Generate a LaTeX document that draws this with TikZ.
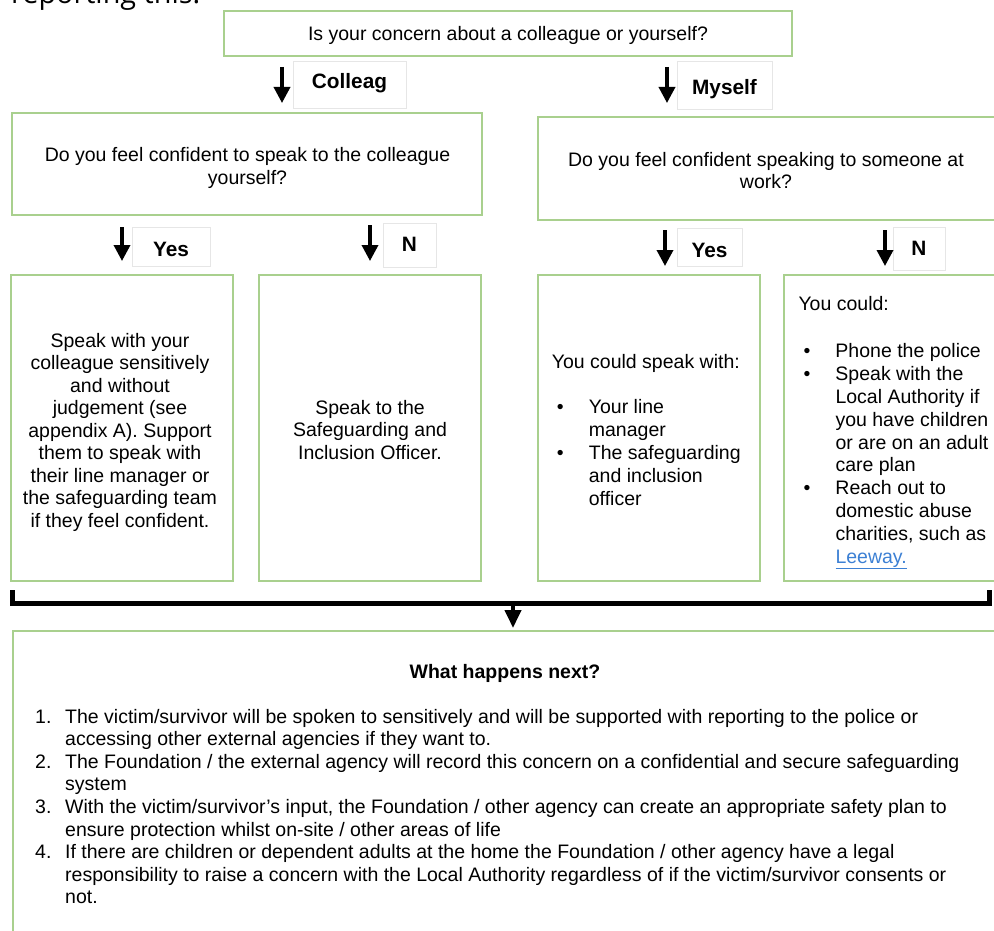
\documentclass[tikz,border=0pt]{standalone}
\usepackage{fontspec}
\setmainfont{Liberation Sans}
\newfontfamily\headfont{Open Sans}
\usetikzlibrary{arrows.meta,calc}
\definecolor{boxgreen}{RGB}{169,208,142}
\definecolor{lblgray}{RGB}{230,230,230}
\definecolor{linkblue}{RGB}{60,128,212}
\newcommand{\bodyfs}{\fontsize{19.5}{22.5}\selectfont}
\newcommand{\lblfs}{\fontsize{20.8}{24}\selectfont\bfseries}
\newcommand{\bulA}{\makebox[37pt][l]{\hspace{5pt}\textbullet}}
\newcommand{\indA}{\hspace*{37pt}}
\newcommand{\numA}[1]{\makebox[30pt][l]{#1}}
\newcommand{\indN}{\hspace*{30pt}}
\newcommand{\lowerby}[2]{\raisebox{-#1}[0pt][0pt]{#2}}
\begin{document}
\begin{tikzpicture}[x=1pt,y=-1pt,
  gbox/.style={draw=boxgreen,line width=2pt,inner sep=0pt,font=\bodyfs},
  lbl/.style={draw=lblgray,line width=0.8pt,fill=white,inner sep=0pt,font=\lblfs},
  txt/.style={inner sep=0pt,font=\bodyfs},
  arr/.style={line width=3.5pt,-{Triangle[width=16pt,length=16pt]}},
  bracket/.style={line width=5pt,line cap=butt,line join=miter}
]
\useasboundingbox (0,0) rectangle (994,931);
\fill[white] (0,0) rectangle (994,931);

% partial heading from the page
\node[anchor=base west,inner sep=0pt,font=\headfont\fontsize{28.8}{32}\selectfont] (intro) at (11,3.5) {reporting this.};

% top question
\node[gbox,minimum width=568pt,minimum height=45pt] (q0) at (508,33.5) {\lowerby{7pt}{Is your concern about a colleague or yourself?}};

% second level
\node[gbox,minimum width=470pt,minimum height=102pt] (qL) at (247,164) {};
\node[txt,align=center] (qLt) at (247.5,168) {Do you feel confident to speak to the colleague\\yourself?};
\node[gbox,minimum width=470pt,minimum height=103pt] (qR) at (773,168.5) {};
\node[txt,align=center] (qRt) at (766,170.5) {Do you feel confident speaking to someone at\\work?};

% labels
\node[lbl,minimum width=113pt,minimum height=47pt] (lCol) at (349.5,84.5) {\lowerby{4.5pt}{Colleag}};
\node[lbl,minimum width=95pt,minimum height=48pt] (lMy) at (724.5,85) {\lowerby{10pt}{Myself}};
\node[lbl,minimum width=78pt,minimum height=39pt] (lY1) at (171,246.5) {\lowerby{9.5pt}{Yes}};
\node[lbl,minimum width=53pt,minimum height=44pt] (lN1) at (409.5,245) {\lowerby{6pt}{N}};
\node[lbl,minimum width=65pt,minimum height=38pt] (lY2) at (709.5,247) {\lowerby{10.5pt}{Yes}};
\node[lbl,minimum width=52pt,minimum height=43pt] (lN2) at (919,248.5) {\lowerby{6.5pt}{N}};

% bottom-level boxes
\node[gbox,minimum width=222pt,minimum height=306pt] (b1) at (122,428) {};
\node[gbox,minimum width=222pt,minimum height=306pt] (b2) at (370,428) {};
\node[gbox,minimum width=222pt,minimum height=306pt] (b3) at (649,428) {};
\node[gbox,minimum width=222pt,minimum height=306pt] (b4) at (895,428) {};
\node[txt,align=center] (b1t) at (120,432) {Speak with your\\colleague sensitively\\and without\\judgement (see\\appendix A). Support\\them to speak with\\their line manager or\\the safeguarding team\\if they feel confident.};
\node[txt,align=center] (b2t) at (370,430) {Speak to the\\Safeguarding and\\Inclusion Officer.};
\node[txt,align=left,anchor=west,font=\fontsize{19.5}{23}\selectfont] (b3t) at (551.7,429.9) {You could speak with:\\[22.5pt]
\bulA Your line\\
\indA manager\\
\bulA The safeguarding\\
\indA and inclusion\\
\indA officer};
\node[txt,align=left,anchor=west,font=\fontsize{19.5}{22.8}\selectfont] (b4t) at (798.3,432.8) {You could:\\[24.6pt]
\bulA Phone the police\\
\bulA Speak with the\\
\indA Local Authority if\\
\indA you have children\\
\indA or are on an adult\\
\indA care plan\\
\bulA Reach out to\\
\indA domestic abuse\\
\indA charities, such as\\
\indA {\color{linkblue}\underline{Leeway.}}};

% final box
\node[gbox,minimum width=1000pt,minimum height=330pt,anchor=north west] (nb) at (12,630) {};
\node[inner sep=0pt,font=\fontsize{19.5}{22.5}\selectfont\bfseries] (nbt) at (505,673) {What happens next?};
\node[inner sep=0pt,align=left,anchor=west,font=\fontsize{19.5}{22.6}\selectfont] (list) at (35,806.5) {%
\numA{1.}The victim/survivor will be spoken to sensitively and will be supported with reporting to the police or\\
\indN accessing other external agencies if they want to.\\
\numA{2.}The Foundation / the external agency will record this concern on a confidential and secure safeguarding\\
\indN system\\
\numA{3.}With the victim/survivor's input, the Foundation / other agency can create an appropriate safety plan to\\
\indN ensure protection whilst on-site / other areas of life\\
\numA{4.}If there are children or dependent adults at the home the Foundation / other agency have a legal\\
\indN responsibility to raise a concern with the Local Authority regardless of if the victim/survivor consents or\\
\indN not.};

% arrows
\coordinate (xCol) at (282,0);
\coordinate (xMy) at (667,0);
\coordinate (xY1) at (122,0);
\coordinate (xN1) at (370,0);
\coordinate (xY2) at (665,0);
\coordinate (xN2) at (885,0);
\draw[arr,shorten <=10pt,shorten >=9pt] (q0.south -| xCol) -- (qL.north -| xCol);
\draw[arr,shorten <=10pt,shorten >=13pt] (q0.south -| xMy) -- (qR.north -| xMy);
\draw[arr,shorten <=11pt,shorten >=13pt] (qL.south -| xY1) -- (b1.north -| xY1);
\draw[arr,shorten <=9pt,shorten >=13pt] (qL.south -| xN1) -- (b2.north -| xN1);
\draw[arr,shorten <=9pt,shorten >=8pt] (qR.south -| xY2) -- (b3.north -| xY2);
\draw[arr,shorten <=9pt,shorten >=8pt] (qR.south -| xN2) -- (b4.north -| xN2);

% bracket joining the four boxes
\coordinate (brLt) at (12,590);
\coordinate (brL) at (12,603);
\coordinate (brR) at (989,603);
\coordinate (brRt) at (989,590);
\coordinate (brM) at (513,603);
\draw[bracket] (brLt) -- (brL) -- (brR) -- (brRt);
\draw[line width=4pt,-{Triangle[width=16pt,length=18pt]},shorten >=2pt] (brM) -- (nb.north -| brM);
\end{tikzpicture}
\end{document}
